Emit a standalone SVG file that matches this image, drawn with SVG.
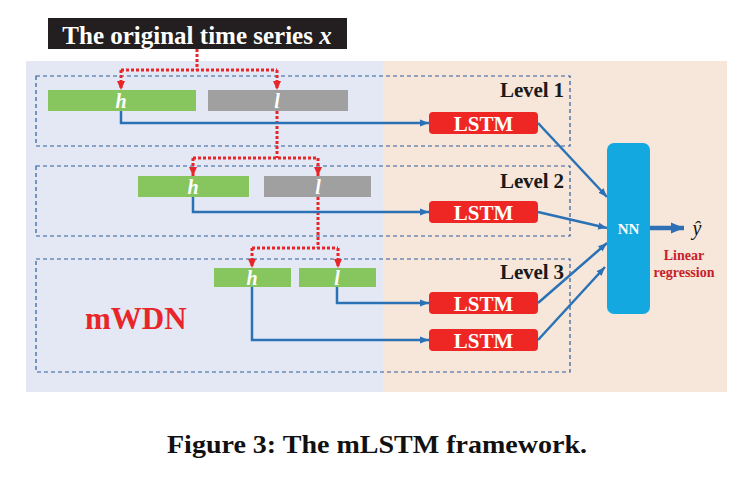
<svg xmlns="http://www.w3.org/2000/svg" width="749" height="480" viewBox="0 0 749 480">
<style>
.t{font-family:"Liberation Serif","Times New Roman",serif;font-weight:bold}
.lvl{fill:none;stroke:#2f5d9c;stroke-width:1.2;stroke-dasharray:4 3}
.bar-h{fill:#87c65f}
.bar-l{fill:#a0a0a0}
.hl{font-family:"Liberation Serif","Times New Roman",serif;font-weight:bold;font-style:italic;font-size:20px;fill:#fff;text-anchor:middle}
.lstm{fill:#ee2724}
.lstmt{font-size:21px;fill:#fff;text-anchor:middle}
.lvt{font-size:21px;fill:#1a1a1a;text-anchor:end}
.red{fill:none;stroke:#e8262a;stroke-width:3;stroke-dasharray:3 2}
.blue{fill:none;stroke:#2a72b5;stroke-width:2.5}
</style>
<defs>
<marker id="ra" markerUnits="userSpaceOnUse" markerWidth="10" markerHeight="10" refX="9" refY="5" orient="auto">
<path d="M0,1 L9,5 L0,9 Z" fill="#e8262a"/>
</marker>
<marker id="ba" markerUnits="userSpaceOnUse" markerWidth="10" markerHeight="10" refX="9" refY="5" orient="auto">
<path d="M0,1.5 L9,5 L0,8.5 Z" fill="#2a72b5"/>
</marker>
<marker id="bb" markerUnits="userSpaceOnUse" markerWidth="14" markerHeight="14" refX="13" refY="7" orient="auto">
<path d="M0,1.5 L13,7 L0,12.5 Z" fill="#2f6fb5"/>
</marker>
</defs>
<rect width="749" height="480" fill="#fff"/>
<g id="background">
<rect x="26" y="61" width="357" height="331" fill="#e4e8f4"/>
<rect x="383" y="61" width="344" height="331" fill="#f7e6da"/>
</g>
<g id="level1">
<rect class="lvl" x="36" y="76" width="534" height="70"/>
<text class="t lvt" x="564" y="97" textLength="64">Level 1</text>
</g>
<g id="level2">
<rect class="lvl" x="36" y="166" width="534" height="70"/>
<text class="t lvt" x="564" y="188" textLength="64">Level 2</text>
</g>
<g id="level3">
<rect class="lvl" x="36" y="259" width="534" height="113"/>
<text class="t lvt" x="564" y="279" textLength="64">Level 3</text>
</g>
<g id="title">
<rect x="48" y="18" width="299" height="31" fill="#231f20"/>
<text class="t" x="197" y="44" font-size="25" fill="#fff" text-anchor="middle">The original time series <tspan font-style="italic">x</tspan></text>
</g>
<g id="mwdn">
<text class="t" x="85" y="329" font-size="31" fill="#e8262a">mWDN</text>
</g>
<g id="connectors">
<path class="red" d="M197,49 V70"/>
<path class="red" d="M121,70 H277"/>
<path class="red" d="M121,70 V90" marker-end="url(#ra)"/>
<path class="red" d="M277,70 V90" marker-end="url(#ra)"/>
<path class="red" d="M277,111 V158"/>
<path class="red" d="M193,158 H318"/>
<path class="red" d="M193,158 V176" marker-end="url(#ra)"/>
<path class="red" d="M318,158 V176" marker-end="url(#ra)"/>
<path class="red" d="M318,197 V248"/>
<path class="red" d="M252,248 H338"/>
<path class="red" d="M252,248 V268" marker-end="url(#ra)"/>
<path class="red" d="M338,248 V268" marker-end="url(#ra)"/>
<path class="blue" d="M121,111 V123 H429" marker-end="url(#ba)"/>
<path class="blue" d="M193,197 V212 H429" marker-end="url(#ba)"/>
<path class="blue" d="M337,287 V303 H429" marker-end="url(#ba)"/>
<path class="blue" d="M252,287 V340 H429" marker-end="url(#ba)"/>
<path class="blue" d="M538,123 L607,197" marker-end="url(#ba)"/>
<path class="blue" d="M538,212 L607,228" marker-end="url(#ba)"/>
<path class="blue" d="M538,303 L607,243" marker-end="url(#ba)"/>
<path class="blue" d="M538,340 L605,267" marker-end="url(#ba)"/>
<path fill="none" stroke="#2f6fb5" stroke-width="4.5" d="M650,228 H684" marker-end="url(#bb)"/>
</g>
<g id="l1-h"><rect class="bar-h" x="48" y="90" width="148" height="21"/><text class="hl" x="121" y="108">h</text></g>
<g id="l1-l"><rect class="bar-l" x="208" y="90" width="140" height="21"/><text class="hl" x="277" y="108">l</text></g>
<g id="l2-h"><rect class="bar-h" x="138" y="176" width="111" height="21"/><text class="hl" x="193" y="194">h</text></g>
<g id="l2-l"><rect class="bar-l" x="264" y="176" width="107" height="21"/><text class="hl" x="318" y="194">l</text></g>
<g id="l3-h"><rect class="bar-h" x="214" y="268" width="77" height="19"/><text class="hl" x="252" y="285">h</text></g>
<g id="l3-l"><rect class="bar-h" x="299" y="268" width="77" height="19"/><text class="hl" x="337" y="285">l</text></g>
<g id="lstm1"><rect class="lstm" x="429" y="112" width="109" height="22" rx="4"/><text class="t lstmt" x="483.5" y="131">LSTM</text></g>
<g id="lstm2"><rect class="lstm" x="429" y="201" width="109" height="22" rx="4"/><text class="t lstmt" x="483.5" y="220">LSTM</text></g>
<g id="lstm3a"><rect class="lstm" x="429" y="292" width="109" height="22" rx="4"/><text class="t lstmt" x="483.5" y="311">LSTM</text></g>
<g id="lstm3b"><rect class="lstm" x="429" y="329" width="109" height="22" rx="4"/><text class="t lstmt" x="483.5" y="348">LSTM</text></g>
<g id="nn">
<rect x="607" y="143" width="43" height="171" rx="7" fill="#13a8e0"/>
<text class="t" x="628.5" y="234" font-size="15" fill="#fff" text-anchor="middle">NN</text>
</g>
<g id="yhat">
<text x="697" y="235" font-family="Liberation Serif,Times New Roman,serif" font-style="italic" font-size="20" fill="#111" text-anchor="middle">ŷ</text>
</g>
<g id="linreg">
<text class="t" x="684" y="260" font-size="14" fill="#c8202a" text-anchor="middle">Linear</text>
<text class="t" x="684" y="277" font-size="14" fill="#c8202a" text-anchor="middle">regression</text>
</g>
<g id="caption">
<text class="t" x="167" y="453" font-size="26" fill="#111" textLength="420" lengthAdjust="spacingAndGlyphs">Figure 3: The mLSTM framework.</text>
</g>
</svg>
